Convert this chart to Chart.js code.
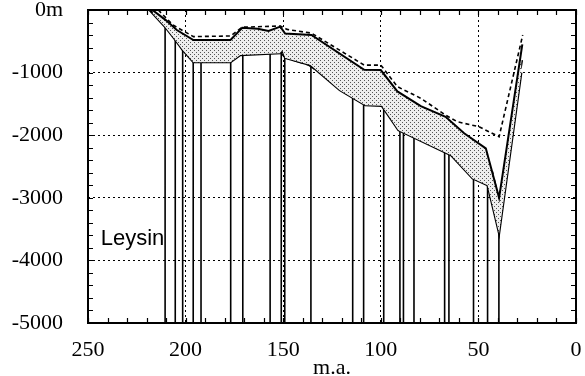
<!DOCTYPE html>
<html>
<head>
<meta charset="utf-8">
<script src="https://cdn.jsdelivr.net/npm/chart.js@4/dist/chart.umd.min.js"></script>
<style>
  html, body { margin: 0; padding: 0; background: #fff; }
  #wrap { width: 585px; height: 376px; }
</style>
</head>
<body>
<div id="wrap"><canvas id="c" width="585" height="376"></canvas></div>
<script>
// Subsidence curves, Leysin (age in m.a., depth in m)
const upperSolidAge   = [217, 210, 204.5, 196, 177, 171, 163, 157.5, 151.5, 149, 135.5, 108.5, 100, 91.5, 79.5, 66.8, 57.3, 46.2, 39.4, 27.5];
const upperSolidDepth = [0, -165, -320, -480, -480, -285, -300, -335, -265, -375, -400, -955, -960, -1300, -1535, -1705, -1970, -2210, -3000, -550];

const lowerSolidAge   = [218.5, 210.5, 205.5, 201.5, 196, 177, 172, 151.5, 150.5, 149, 136, 121, 108, 99.5, 91, 64, 53, 45.3, 39.4, 28];
const lowerSolidDepth = [0, -270, -470, -640, -835, -835, -720, -690, -640, -765, -880, -1280, -1520, -1530, -1920, -2320, -2690, -2800, -3570, -1000];

const upperDashedAge   = [214, 206.5, 196, 177, 171, 151.5, 148, 135.5, 108.5, 100, 91.5, 79.5, 66.8, 60.8, 49.7, 39.4, 27.3];
const upperDashedDepth = [0, -240, -425, -415, -275, -255, -310, -370, -880, -880, -1225, -1410, -1680, -1785, -1865, -2025, -400];

const lowerDashedAge   = [218, 205, 199, 195, 177, 172, 151.5, 149, 137, 121, 108.5, 98.6, 87.4, 79.6, 64.2, 59.1, 50, 42.8, 39.4, 27.5];
const lowerDashedDepth = [0, -440, -690, -770, -775, -700, -680, -760, -880, -1225, -1400, -1520, -1885, -2000, -2240, -2320, -2445, -2585, -3030, -800];

// Wells: age of each vertical bar and the depth of its top
const barAge = [210.5, 205.3, 201.5, 196.1, 192.1, 176.9, 170.7, 156.7, 151, 149.2, 135.8, 114.4, 108.8, 98.5, 90.2, 88.4, 83, 67.3, 65.1, 52.5, 45.3, 39.5];
const barTop = [-270, -465, -640, -835, -835, -835, -720, -700, -650, -760, -880, -1390, -1515, -1530, -1910, -1960, -2035, -2250, -2300, -2700, -2800, -3560];
const barBase = -5000;

const xTickValues = [250, 200, 150, 100, 50, 0];
const yTickValues = [0, -1000, -2000, -3000, -4000, -5000];
const yTickLabels = ['0m', '-1000', '-2000', '-3000', '-4000', '-5000'];

const siteName = 'Leysin';
const xTitle = 'm.a.';

function pts(xs, ys) { return xs.map((x, i) => ({ x: x, y: ys[i] })); }

const barPoints = [];
barAge.forEach((a, i) => {
  barPoints.push({ x: a, y: barBase });
  barPoints.push({ x: a, y: barTop[i] });
  barPoints.push({ x: a, y: null });
});

// stippled fill
function makeStipple() {
  const c = document.createElement('canvas');
  c.width = 4; c.height = 4;
  const g = c.getContext('2d');
  g.fillStyle = '#eeeeee';
  g.fillRect(0, 0, 4, 4);
  g.fillStyle = '#555';
  g.fillRect(0, 0, 1, 1);
  g.fillRect(2, 2, 1, 1);
  return g.createPattern(c, 'repeat');
}

const serif = 'Liberation Serif, Times New Roman, serif';

const frameTicks = {
  id: 'frameTicks',
  beforeDatasetsDraw(chart) {
    const { ctx, scales: { x, y } } = chart;
    ctx.save();
    ctx.fillStyle = '#000';
    ctx.font = '22px "Liberation Sans", Arial, sans-serif';
    ctx.textBaseline = 'alphabetic';
    ctx.textAlign = 'left';
    ctx.fillText(siteName, x.getPixelForValue(243.5), y.getPixelForValue(-3760));
    ctx.restore();
  },
  afterDatasetsDraw(chart) {
    const { ctx, chartArea: a, scales: { x, y } } = chart;
    ctx.save();
    ctx.strokeStyle = '#000';
    ctx.lineWidth = 1.2;
    ctx.beginPath();
    for (let v = 0; v <= 250; v += 10) {
      const px = Math.round(x.getPixelForValue(v)) + 0.5;
      ctx.moveTo(px, a.bottom); ctx.lineTo(px, a.bottom - 5);
      ctx.moveTo(px, a.top); ctx.lineTo(px, a.top + 5);
    }
    for (let v = -5000; v <= 0; v += 200) {
      const py = Math.round(y.getPixelForValue(v)) + 0.5;
      ctx.moveTo(a.left, py); ctx.lineTo(a.left + 5, py);
      ctx.moveTo(a.right, py); ctx.lineTo(a.right - 5, py);
    }
    ctx.stroke();
    ctx.lineWidth = 2;
    ctx.strokeRect(a.left, a.top, a.right - a.left, a.bottom - a.top);
    ctx.restore();
  }
};

const ctx = document.getElementById('c').getContext('2d');
new Chart(ctx, {
  type: 'line',
  data: {
    datasets: [
      { label: 'upper', data: pts(upperSolidAge, upperSolidDepth), borderColor: '#000', borderWidth: 2,
        pointRadius: 0, fill: { target: 1 }, backgroundColor: makeStipple(), tension: 0 },
      { label: 'lower', data: pts(lowerSolidAge, lowerSolidDepth), borderColor: '#000', borderWidth: 2.2,
        pointRadius: 0, fill: false, tension: 0 },
      { label: 'wells', data: barPoints, borderColor: '#000', borderWidth: 1.6,
        pointRadius: 0, fill: false, spanGaps: false, tension: 0 },
      { label: 'upperDashed', data: pts(upperDashedAge, upperDashedDepth), borderColor: '#000', borderWidth: 1.6,
        borderDash: [4, 3], pointRadius: 0, fill: false, tension: 0 },
      { label: 'lowerDashed', data: pts(lowerDashedAge, lowerDashedDepth), borderColor: '#000', borderWidth: 1.6,
        borderDash: [9, 5], pointRadius: 0, fill: false, tension: 0 }
    ]
  },
  options: {
    responsive: false,
    animation: false,
    devicePixelRatio: 1,
    layout: { padding: { top: 10, right: 9, left: 0, bottom: 0 } },
    plugins: { legend: { display: false }, tooltip: { enabled: false } },
    scales: {
      x: {
        type: 'linear', reverse: true, min: 0, max: 250,
        afterBuildTicks(s) { s.ticks = xTickValues.map(v => ({ value: v })); },
        afterFit(s) { s.height = 53; },
        ticks: { color: '#000', font: { family: serif, size: 22, lineHeight: 1 }, padding: 0, maxRotation: 0,
                 callback: v => String(v) },
        grid: { color: '#000', lineWidth: 1, drawTicks: true, tickLength: 16, tickColor: 'rgba(0,0,0,0)' },
        border: { display: false, dash: [2, 3] },
        title: { display: true, text: xTitle, color: '#000', font: { family: serif, size: 22, lineHeight: 1 },
                 padding: { top: 0, bottom: -3 } }
      },
      y: {
        type: 'linear', min: -5000, max: 0,
        afterBuildTicks(s) { s.ticks = yTickValues.map(v => ({ value: v })); },
        afterFit(s) { s.width = 88; },
        ticks: { color: '#000', font: { family: serif, size: 22, lineHeight: 0.9 }, padding: 0,
                 callback: v => yTickLabels[yTickValues.indexOf(v)] },
        grid: { color: '#000', lineWidth: 1, drawTicks: true, tickLength: 25, tickColor: 'rgba(0,0,0,0)' },
        border: { display: false, dash: [2, 3] }
      }
    }
  },
  plugins: [frameTicks]
});
</script>
</body>
</html>
